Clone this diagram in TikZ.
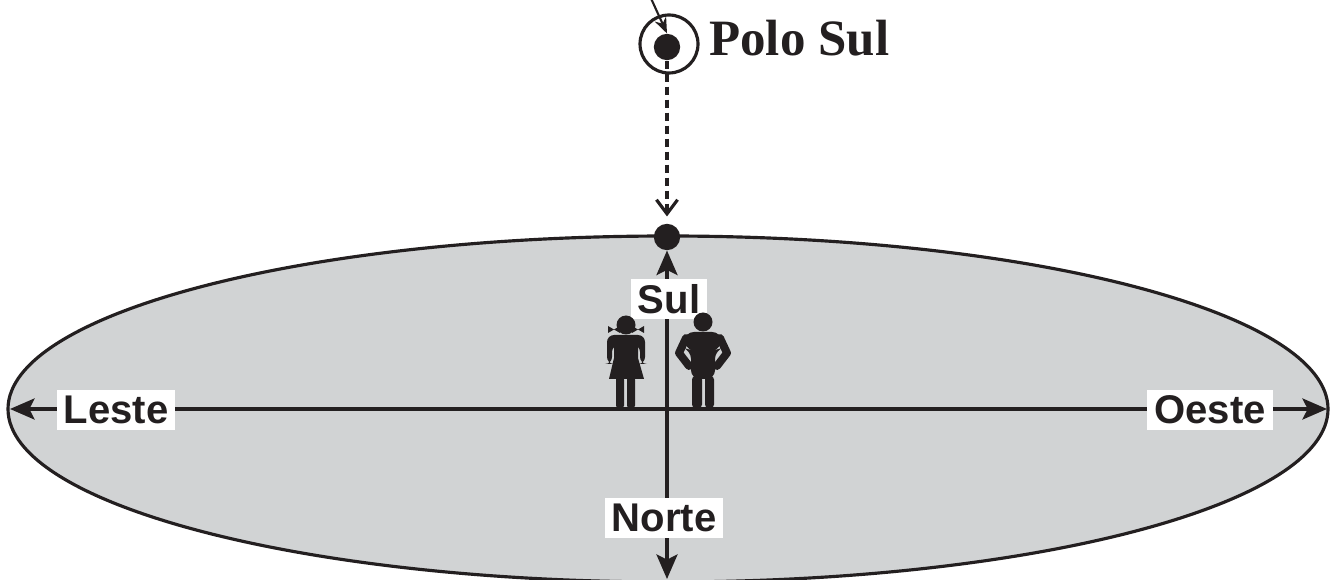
\documentclass[tikz,border=0pt]{standalone}
\usepackage{fontspec}
\newfontfamily\axisfont{Liberation Sans}
\newfontfamily\polefont{Liberation Serif}
\usetikzlibrary{arrows.meta}
\definecolor{ink}{HTML}{231F20}
\definecolor{ground}{HTML}{D1D3D4}

\tikzset{
  axislabel/.style={fill=white, inner xsep=4pt, inner ysep=0pt, minimum height=23pt,
    text=ink, font=\axisfont\bfseries\fontsize{22.8}{24}\selectfont},
  axisline/.style={draw=ink, line width=1.8pt,
    {Stealth[length=14pt,width=12pt,inset=3pt]}-{Stealth[length=14pt,width=12pt,inset=3pt]}},
  dot/.style={circle, fill=ink, inner sep=0pt, minimum size=15pt},
  polelabel/.style={text=ink, inner sep=0pt, font=\polefont\bfseries\fontsize{29}{30}\selectfont},
}

\begin{document}
\begin{tikzpicture}[x=0.02cm, y=-0.02cm]
    \useasboundingbox (0,0) rectangle (1338,580);
    %ground plane
    \draw[ink, fill=ground, line width=1.8pt] (668,409) ellipse (660 and 173);

    %pole in the sky
    \node[circle, draw=ink, line width=1.8pt, minimum size=33pt, inner sep=0pt] (ring) at (669,44) {};
    \node[dot] (pdot) at (667,47) {};
    \node[polelabel, anchor=base west] (poletext) at (709,56) {Polo Sul};
    \coordinate (sky) at (649,-6);
    \draw[ink, line width=1.2pt, -{Stealth[length=9pt,width=7pt]}] (sky) -- (pdot.north);

    %south point on the horizon
    \node[dot] (sdot) at (667,237) {};
    \draw[ink, line width=2.3pt, dash pattern=on 5pt off 2.4pt, shorten >=4pt,
      -{Straight Barb[length=8pt,width=12pt,line width=1.8pt]}] (pdot) -- (sdot);

    %axes
    \coordinate (bottom) at (667,579);
    \coordinate (left) at (10,409);
    \coordinate (right) at (1327,409);
    \draw[axisline] (sdot) -- (bottom);
    \draw[axisline] (left) -- (right);
    \node[axislabel] (south) at (669,299) {Sul};
    \node[axislabel] (north) at (664,518) {Norte};
    \node[axislabel] (east) at (116,410) {Leste};
    \node[axislabel] (west) at (1210,410) {Oeste};

    %girl
    \fill[ink] (626,325) circle (9.5);
    \fill[ink] (608,326) -- (620,333) -- (620,326) -- (608,333) -- cycle;
    \fill[ink] (632,326) -- (644,333) -- (644,326) -- (632,333) -- cycle;
    \fill[ink, rounded corners=4] (607,364) -- (607,335) -- (645,335) -- (645,364)
      -- (640,364) -- (640,345) -- (612,345) -- (612,364) -- cycle;
    \fill[ink] (614,343) -- (638,343) -- (638,358) -- (644,379) -- (609,379) -- (614,358) -- cycle;
    \fill[ink, rounded corners=2] (616,376) rectangle (624,409);
    \fill[ink, rounded corners=2] (627,376) rectangle (635,409);

    %boy
    \fill[ink] (703,322) circle (9.5);
    \fill[ink, rounded corners=5] (684,348) -- (685,332) -- (721,332) -- (722,348)
      -- (715,350) -- (715,379) -- (691,379) -- (691,350) -- cycle;
    \draw[ink, line width=4.5pt, line join=round, line cap=round] (686,338) -- (679,353) -- (689,366);
    \draw[ink, line width=4.5pt, line join=round, line cap=round] (720,338) -- (727,353) -- (717,366);
    \fill[ink, rounded corners=2] (692,376) rectangle (702,408);
    \fill[ink, rounded corners=2] (705,376) rectangle (714,408);
\end{tikzpicture}
\end{document}
